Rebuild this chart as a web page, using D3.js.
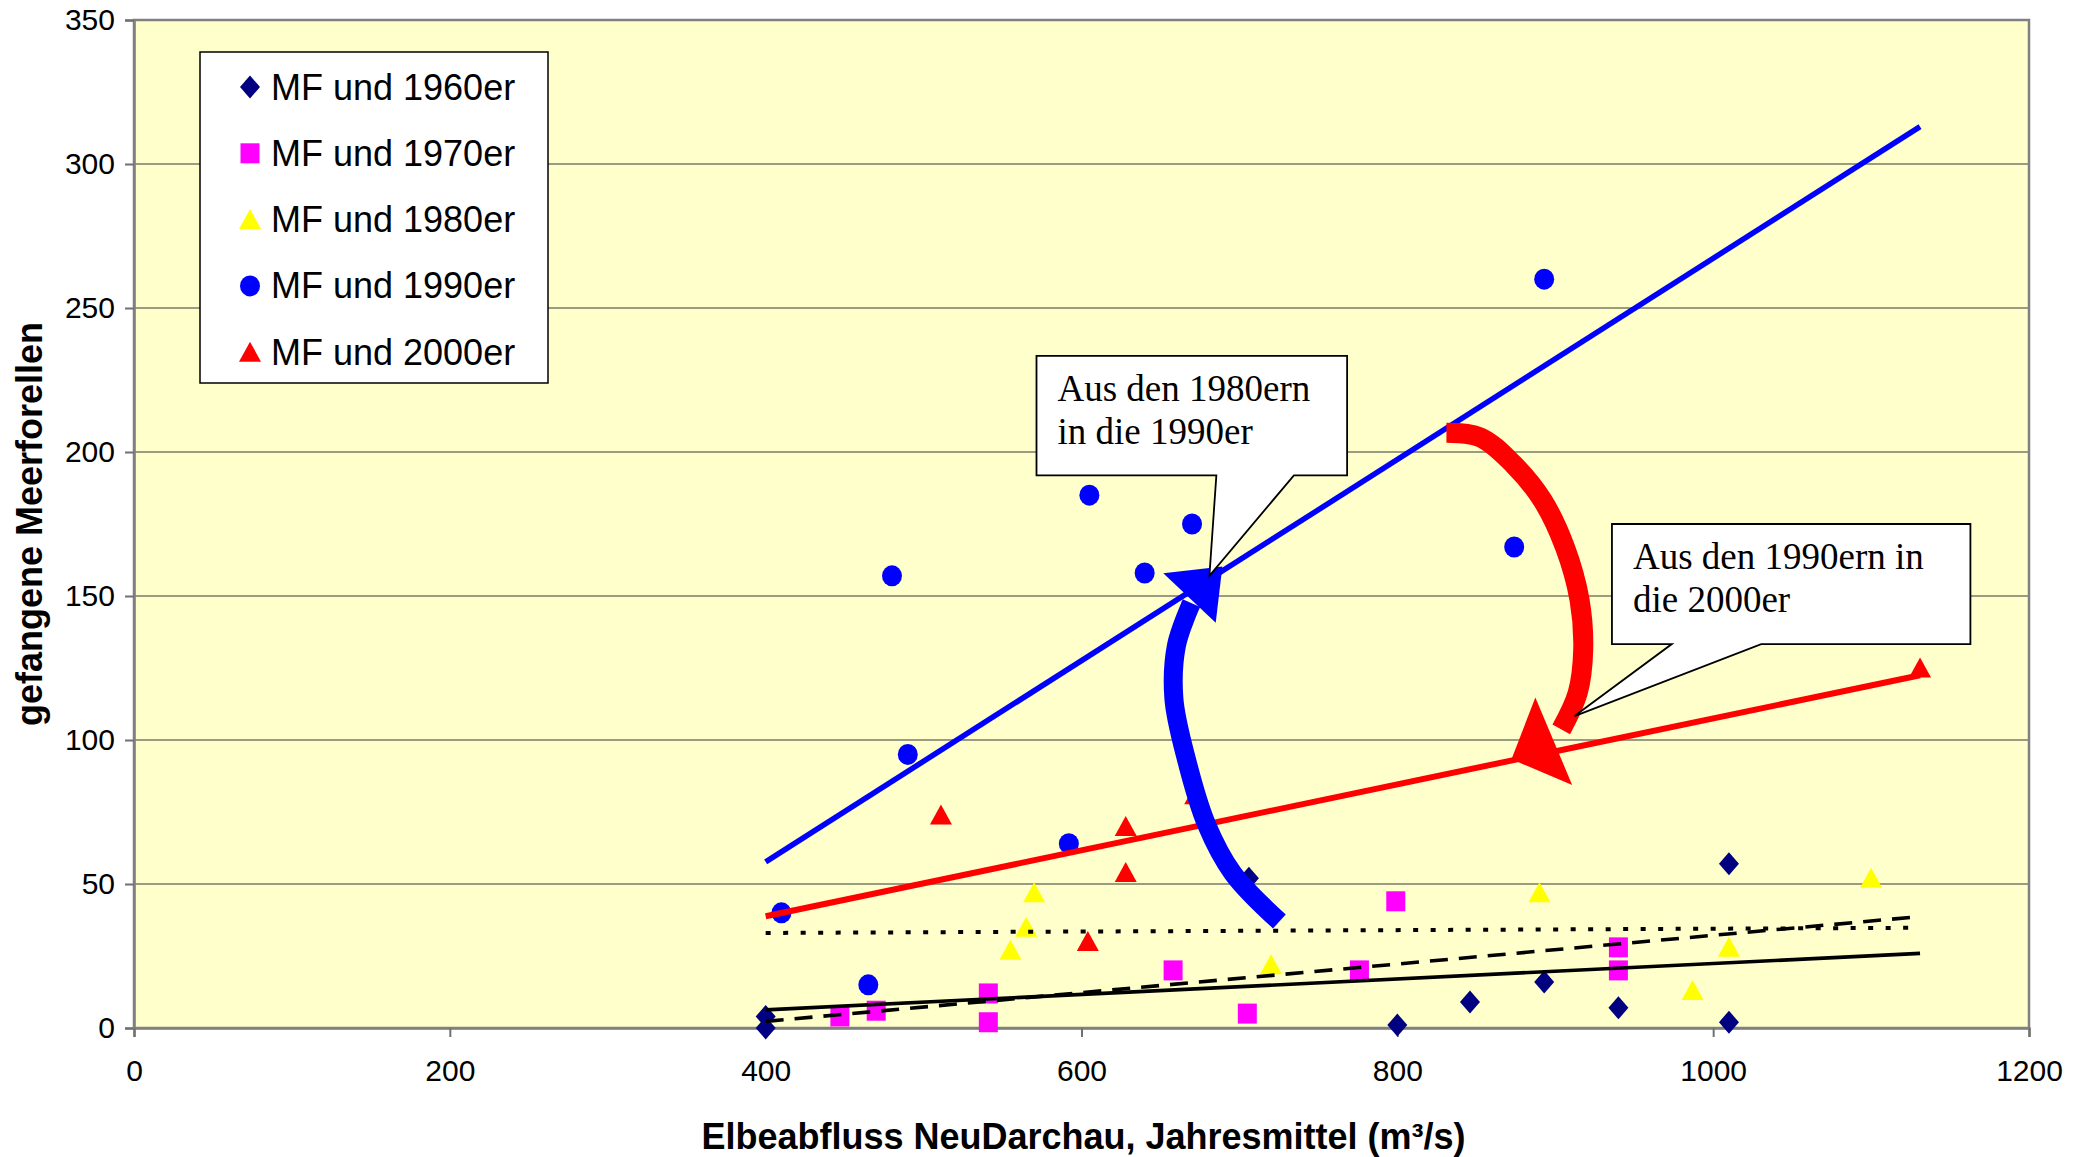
<!DOCTYPE html>
<html>
<head>
<meta charset="utf-8">
<script src="https://cdnjs.cloudflare.com/ajax/libs/d3/7.8.5/d3.min.js"></script>
<style>
  body { margin: 0; background: #fff; }
  svg { display: block; }
</style>
</head>
<body>
<div id="chart"></div>
<script>
// series names (legend order)
const seriesNames = ["MF und 1960er", "MF und 1970er", "MF und 1980er", "MF und 1990er", "MF und 2000er"];

// [Elbeabfluss m3/s, gefangene Meerforellen]
const mf1960 = [[400,4],[400,0],[706,52],[800,1],[846,9],[893,16],[940,7],[1010,57],[1010,2]];
const mf1970 = [[447,4],[470,6],[541,12],[541,2],[658,20],[705,5],[776,20],[799,44],[940,28],[940,20]];
const mf1980 = [[555,27],[565,35],[570,47],[720,22],[890,47],[987,13],[1010,28],[1100,52]];
const mf1990 = [[410,40],[465,15],[480,157],[490,95],[592,64],[605,185],[640,158],[670,175],[874,167],[893,260]];
const mf2000 = [[511,74],[604,30],[628,70],[628,54],[672,81],[1131,125]];

// linear trend lines, start and end point
const trend1960 = [[400,6.3],[1131,25.9]];
const trend1970 = [[400,2.3],[1131,38.7]];
const trend1980 = [[400,33],[1131,34.8]];
const trend1990 = [[400,57.7],[1131,313]];
const trend2000 = [[400,38.8],[1131,122.5]];

const xTicks = [0,200,400,600,800,1000,1200];
const yTicks = [0,50,100,150,200,250,300,350];

const xTitle = "Elbeabfluss NeuDarchau, Jahresmittel (m³/s)";
const yTitle = "gefangene Meerforellen";

const callout1Text = ["Aus den 1980ern", "in die 1990er"];
const callout2Text = ["Aus den 1990ern in", "die 2000er"];

// ---- layout ----
const W = 2091, H = 1157;
const P = { left: 134, right: 2029, top: 20, bottom: 1028 };
const SANS = "'Liberation Sans', Arial, sans-serif";
const SERIF = "'Liberation Serif', 'Times New Roman', serif";

const x = d3.scaleLinear().domain([0, 1200]).range([P.left, P.right]);
const y = d3.scaleLinear().domain([0, 350]).range([P.bottom, P.top]);

const svg = d3.select("#chart").append("svg")
  .attr("width", W).attr("height", H);

// plot area
svg.append("rect")
  .attr("x", P.left).attr("y", P.top)
  .attr("width", P.right - P.left).attr("height", P.bottom - P.top)
  .attr("fill", "#FFFFCC");

// gridlines
svg.append("g").selectAll("line")
  .data(yTicks.filter(t => t > 0 && t < 350)).enter().append("line")
  .attr("x1", P.left).attr("x2", P.right)
  .attr("y1", d => y(d)).attr("y2", d => y(d))
  .attr("stroke", "#7a7a6a").attr("stroke-width", 1.5);

// border
svg.append("rect")
  .attr("x", P.left).attr("y", P.top)
  .attr("width", P.right - P.left).attr("height", P.bottom - P.top)
  .attr("fill", "none").attr("stroke", "#808080").attr("stroke-width", 2.5);

// axes
const fmt = d3.format("d");
const yAxis = svg.append("g")
  .attr("transform", `translate(${P.left},0)`)
  .call(d3.axisLeft(y).tickValues(yTicks).tickFormat(fmt).tickSize(9).tickPadding(10));
const xAxis = svg.append("g")
  .attr("transform", `translate(0,${P.bottom})`)
  .call(d3.axisBottom(x).tickValues(xTicks).tickFormat(fmt).tickSize(9).tickPadding(23));
[xAxis, yAxis].forEach(a => {
  a.select(".domain").attr("stroke", "#808080").attr("stroke-width", 2.5);
  a.selectAll(".tick line").attr("stroke", "#707070").attr("stroke-width", 2);
  a.selectAll("text")
    .attr("font-family", SANS).attr("font-size", 30).attr("fill", "#000");
});

// axis titles
svg.append("text")
  .attr("x", (P.left + P.right) / 2 + 2).attr("y", 1149)
  .attr("text-anchor", "middle")
  .attr("font-family", SANS).attr("font-weight", "bold").attr("font-size", 36)
  .text(xTitle);
svg.append("text")
  .attr("transform", `translate(42,${(P.top + P.bottom) / 2}) rotate(-90)`)
  .attr("text-anchor", "middle")
  .attr("font-family", SANS).attr("font-weight", "bold").attr("font-size", 36)
  .text(yTitle);

// marker shapes
const shapes = {
  diamond: "M0,-11.5L10,0L0,11.5L-10,0Z",
  square: "M-9.5,-10h19v20h-19Z",
  triangle: "M0,-10.5L11,9.5L-11,9.5Z",
  circle: "M-10,0a10,10.5 0 1,0 20,0a10,10.5 0 1,0 -20,0Z"
};

const series = [
  { name: seriesNames[0], data: mf1960, color: "#000080", shape: "diamond", trend: trend1960, tcolor: "#000", dash: null, tw: 3.6 },
  { name: seriesNames[1], data: mf1970, color: "#FF00FF", shape: "square", trend: trend1970, tcolor: "#000", dash: "18,11", tw: 3.6 },
  { name: seriesNames[2], data: mf1980, color: "#FFFF00", shape: "triangle", trend: trend1980, tcolor: "#000", dash: "5,12.5", tw: 4 },
  { name: seriesNames[3], data: mf1990, color: "#0000FF", shape: "circle", trend: trend1990, tcolor: "#0000FF", dash: null, tw: 5.5 },
  { name: seriesNames[4], data: mf2000, color: "#FF0000", shape: "triangle", trend: trend2000, tcolor: "#FF0000", dash: null, tw: 6 }
];

// points
series.forEach(s => {
  svg.append("g").selectAll("path")
    .data(s.data).enter().append("path")
    .attr("d", shapes[s.shape])
    .attr("transform", d => `translate(${x(d[0])},${y(d[1])})`)
    .attr("fill", s.color);
});

// trend lines
const line = d3.line().x(d => x(d[0])).y(d => y(d[1]));
series.forEach(s => {
  svg.append("path")
    .attr("d", line(s.trend))
    .attr("fill", "none")
    .attr("stroke", s.tcolor)
    .attr("stroke-width", s.tw)
    .attr("stroke-dasharray", s.dash);
});

// curved arrows (data coordinates)
const blueArrow = [[725.3,37.0],[695.9,53.7],[679.1,70.8],[666.5,93.2],[658.5,114.4],[660.2,133.0],[669.6,147.5]];
const blueHead = [[651.8,157.9],[689.2,160.2],[685.0,140.7]];
const redArrow = [[831.1,206.7],[852.5,205.1],[873.4,195.8],[892.0,183.2],[906.1,167.0],[915.4,148.6],[917.7,131.3],[914.2,116.3],[903.8,103.7]];
const redHead = [[887.4,114.8],[910.7,84.4],[872.3,93.3]];

const curve = d3.line().x(d => x(d[0])).y(d => y(d[1])).curve(d3.curveCatmullRom.alpha(0.5));
[[blueArrow, blueHead, "#0000FF", 19], [redArrow, redHead, "#FF0000", 20]].forEach(([pts, head, c, w]) => {
  svg.append("path")
    .attr("d", curve(pts))
    .attr("fill", "none").attr("stroke", c)
    .attr("stroke-width", w).attr("stroke-linecap", "butt");
  svg.append("path")
    .attr("d", line(head) + "Z")
    .attr("fill", c);
});

// callouts
function callout(box, base, tip, lines) {
  const [x0, y0, x1, y1] = [x(box[0]), y(box[1]), x(box[2]), y(box[3])];
  const p = [
    [x0, y0], [x1, y0], [x1, y1],
    [x(base[1]), y1], [x(tip[0]), y(tip[1])], [x(base[0]), y1],
    [x0, y1]
  ];
  svg.append("path")
    .attr("d", "M" + p.map(d => d.join(",")).join("L") + "Z")
    .attr("fill", "#fff").attr("stroke", "#000").attr("stroke-width", 1.8);
  svg.append("text")
    .attr("font-family", SERIF).attr("font-size", 37).attr("fill", "#000")
    .selectAll("tspan").data(lines).enter().append("tspan")
    .attr("x", x0 + 21)
    .attr("y", (d, i) => y0 + 45 + i * 43)
    .text(d => d);
}
callout([571.5, 233.4, 768.2, 191.9], [685.4, 734.5], [681, 157], callout1Text);
callout([935.9, 175.0, 1162.9, 133.3], [973.8, 1030.4], [912.2, 108.3], callout2Text);

// legend
const lg = svg.append("g");
lg.append("rect")
  .attr("x", 200).attr("y", 52).attr("width", 348).attr("height", 331)
  .attr("fill", "#fff").attr("stroke", "#000").attr("stroke-width", 1.5);
const item = lg.selectAll("g.item").data(series).enter().append("g")
  .attr("class", "item")
  .attr("transform", (d, i) => `translate(250,${87 + i * 66.3})`);
item.append("path")
  .attr("d", d => shapes[d.shape])
  .attr("fill", d => d.color);
item.append("text")
  .attr("x", 21).attr("y", 12.5)
  .attr("font-family", SANS).attr("font-size", 36).attr("fill", "#000")
  .text(d => d.name);
</script>
</body>
</html>
